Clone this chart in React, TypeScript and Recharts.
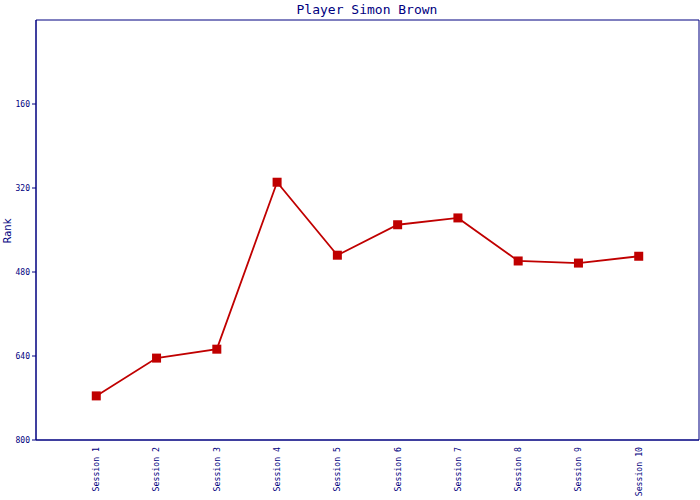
import { LineChart, Line, XAxis, YAxis, ReferenceArea } from "recharts";

const NAVY = "#000080";
const RED = "#c00000";
const MONO = "'DejaVu Sans Mono', monospace";

const sessions = [
  "Session 1", "Session 2", "Session 3", "Session 4", "Session 5",
  "Session 6", "Session 7", "Session 8", "Session 9", "Session 10",
];
const ranks = [716, 644, 627, 309, 448, 390, 377, 459, 463, 450];
const rankTicks = [160, 320, 480, 640, 800];
const sessionTicks = [1, 2, 3, 4, 5, 6, 7, 8, 9, 10];

const data = sessions.map((s, i) => ({ pos: i + 1, name: s, rank: ranks[i] }));

function SessionTick(props: any) {
  const { x, y, payload } = props;
  return (
    <g transform={`translate(${x},${y - 1}) rotate(-90)`}>
      <text x={0} y={0} dy="0.35em" textAnchor="end" fill={NAVY} fontSize={8.2} fontFamily={MONO}>
        {sessions[payload.value - 1]}
      </text>
    </g>
  );
}

function SquareDot(props: any) {
  const { cx, cy } = props;
  if (cx == null || cy == null) return null;
  return <rect x={cx - 4.5} y={cy - 4.5} width={9} height={9} fill={RED} />;
}

export default function App() {
  return (
    <div style={{ position: "absolute", left: 0, top: 0, width: 700, height: 500, background: "#fff" }}>
      <LineChart width={700} height={500} data={data} margin={{ top: 20, right: 1, bottom: 0, left: 0 }}>
        <text x={367} y={14} textAnchor="middle" fill={NAVY} fontSize={13} fontFamily={MONO}>
          Player Simon Brown
        </text>
        <text
          x={11}
          y={231}
          transform="rotate(-90 11 231)"
          textAnchor="middle"
          fill={NAVY}
          fontSize={10}
          fontFamily="'DejaVu Sans', sans-serif"
        >
          Rank
        </text>
        <XAxis
          dataKey="pos"
          type="number"
          domain={[0, 11]}
          ticks={sessionTicks}
          tick={<SessionTick />}
          tickLine={false}
          axisLine={{ stroke: NAVY }}
          height={60}
          interval={0}
        />
        <YAxis
          type="number"
          domain={[0, 800]}
          reversed
          ticks={rankTicks}
          width={36}
          tickSize={4}
          tickMargin={2}
          tick={{ fill: NAVY, fontSize: 8, fontFamily: MONO }}
          tickLine={{ stroke: NAVY }}
          axisLine={{ stroke: NAVY }}
        />
        <ReferenceArea x1={0} x2={11} y1={0} y2={800} fill="none" stroke={NAVY} strokeWidth={1} />
        <Line
          dataKey="rank"
          type="linear"
          stroke={RED}
          strokeWidth={1.8}
          dot={<SquareDot />}
          activeDot={false}
          isAnimationActive={false}
        />
      </LineChart>
    </div>
  );
}
